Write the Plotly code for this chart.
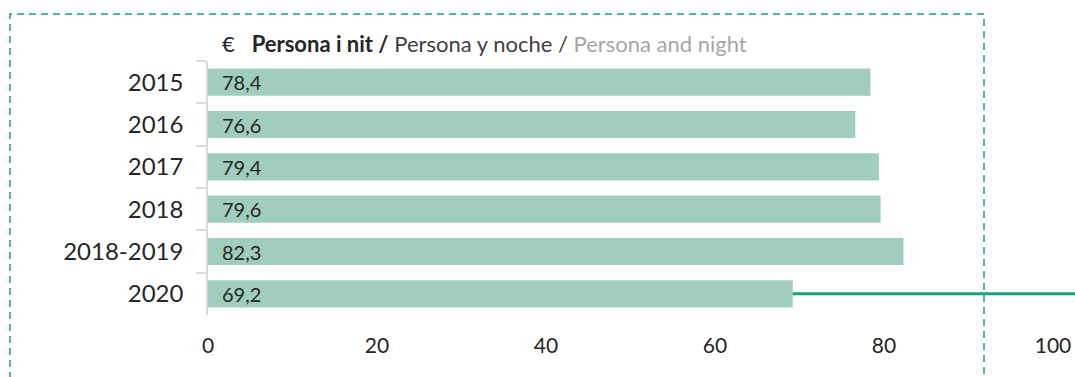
import plotly.graph_objects as go

# Average spend per person and night (EUR)
periods = ["2015", "2016", "2017", "2018", "2018-2019", "2020"]
spend = [78.4, 76.6, 79.4, 79.6, 82.3, 69.2]
x_ticks = [0, 20, 40, 60, 80, 100]

W, H = 1075, 377
ML, MR, MT, MB = 208, 22, 61, 62
PW, PH = W - ML - MR, H - MT - MB
X_MAX = 100

BAR = "#a1cdbf"
GREEN = "#17a07c"
DARK = "#262626"
FONT = "Lato, 'Open Sans', sans-serif"


def px_x(p):
    return (p - ML) / PW


def px_y(p):
    return (H - MB - p) / PH


fig = go.Figure(
    go.Bar(
        x=spend,
        y=periods,
        orientation="h",
        marker=dict(color=BAR, line=dict(width=0)),
        hoverinfo="skip",
    )
)

# value labels at the base of each bar, decimal comma
# (category axis positions given as serial index so year-like names are not read as numbers)
for i, v in enumerate(spend):
    fig.add_annotation(
        x=0, y=i, xref="x", yref="y",
        text=f"{v:.1f}".replace(".", ","),
        showarrow=False, xanchor="left", xshift=12,
        font=dict(family=FONT, size=20, color=DARK),
    )

# guide line from the end of the 2020 bar to the right edge
last = len(spend) - 1
fig.add_shape(
    type="line", xref="paper", yref="y",
    x0=spend[last] / X_MAX, x1=px_x(W + 5), y0=last, y1=last,
    line=dict(color=GREEN, width=3),
)

# dashed frame around the chart
fig.add_shape(
    type="rect", xref="paper", yref="paper",
    x0=px_x(10), x1=px_x(984), y0=px_y(420), y1=px_y(14),
    line=dict(color=GREEN, width=1.5, dash="7px,5px"),
    fillcolor="rgba(0,0,0,0)",
)

fig.add_annotation(
    xref="paper", yref="paper", x=px_x(220), y=px_y(44),
    xanchor="left", yanchor="middle", showarrow=False,
    text=("€&nbsp;&nbsp;&nbsp;<b>Persona i nit /</b> <span style='color:#404040'>Persona y noche /</span> "
          "<span style='color:#a6a6a6'>Persona and night</span>"),
    font=dict(family=FONT, size=22, color=DARK),
)

fig.update_layout(
    width=W, height=H,
    margin=dict(l=ML, r=MR, t=MT, b=MB, pad=0, autoexpand=False),
    paper_bgcolor="white", plot_bgcolor="white",
    bargap=0.36,
    showlegend=False,
    xaxis=dict(
        range=[0, X_MAX], tickvals=x_ticks, ticks="",
        automargin=False,
        showgrid=False, zeroline=False, showline=False,
        ticklabelstandoff=16,
        tickfont=dict(family=FONT, size=21, color=DARK),
    ),
    yaxis=dict(
        type="category",
        categoryorder="array", categoryarray=periods,
        range=[len(periods) - 0.5, -0.5],
        automargin=False,
        showgrid=False, zeroline=False,
        showline=True, linecolor="#d9d9d9", linewidth=1.5,
        ticks="outside", tickson="boundaries", ticklen=10,
        tickcolor="#d9d9d9", tickwidth=1.5,
        ticklabelstandoff=18,
        tickfont=dict(family=FONT, size=24, color=DARK),
    ),
)

fig.write_html("out.html")
